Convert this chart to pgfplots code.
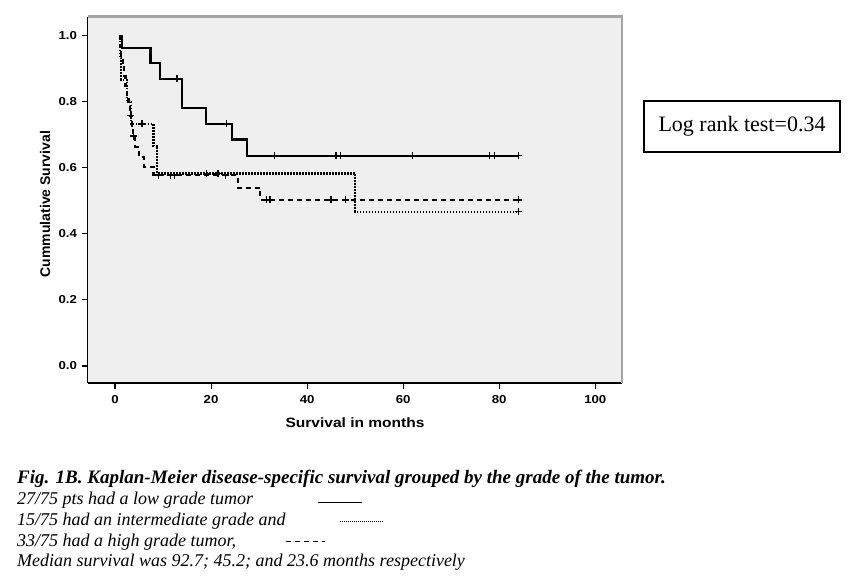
\documentclass[border=0pt]{standalone}
\usepackage{fontspec}
\setmainfont{Liberation Serif}
\newfontfamily\axfont[FakeStretch=1.15]{Liberation Sans}
\newfontfamily\axfontr{Liberation Sans}
\usepackage{pgfplots}
\pgfplotsset{compat=1.18}
\definecolor{bg}{RGB}{239,239,239}
\definecolor{fr}{RGB}{165,165,165}
\begin{document}
\begin{tikzpicture}
\useasboundingbox (0pt,0pt) rectangle (858pt,578pt);
\fill[white] (0pt,0pt) rectangle (858pt,578pt);
\begin{axis}[
  at={(87.5pt,195pt)}, anchor=south west, scale only axis,
  width=534.5pt, height=366.3pt,
  xmin=-5.73, xmax=105.56, ymin=-0.0515, ymax=1.0575,
  axis x line*=bottom, axis y line*=left,
  axis line style={-, black, line width=1.4pt},
  axis background/.style={fill=bg},
  xtick={0,20,40,60,80,100}, ytick={0,0.2,0.4,0.6,0.8,1.0},
  tick align=outside, major tick length=6pt,
  tick style={black, line width=1.1pt},
  /pgf/number format/assume math mode=true,
  tick label style={font=\axfont\bfseries\fontsize{11.5}{13}\selectfont},
  yticklabel style={/pgf/number format/fixed, /pgf/number format/fixed zerofill, /pgf/number format/precision=1, xshift=-1pt},
  xticklabel style={yshift=-3pt},
  clip=false,
]
% frame shadow
\draw[fr, line width=2.5pt] (rel axis cs:0,1) -- (rel axis cs:1,1) -- (rel axis cs:1,0);
% low grade (solid)
\addplot[const plot, black, line width=2.2pt] coordinates {
 (0.8,1) (1.5,0.963) (7.4,0.917) (9.3,0.87) (13.9,0.78) (19,0.733) (24.3,0.686) (27.4,0.636) (84,0.636)};
\addplot[only marks, mark=+, mark size=3.5pt, mark options={black, line width=1.1pt}] coordinates {
 (12.9,0.87) (23.3,0.733) (33.2,0.636) (46,0.636) (47,0.636) (62,0.636) (78,0.636) (79,0.636) (84,0.636)};
% intermediate grade (dotted)
\addplot[const plot, black, line width=2.2pt, dash pattern=on 1.5pt off 1.5pt] coordinates {
 (0.8,1) (1.0,0.933) (1.3,0.867) (2.5,0.8) (3.3,0.733) (8,0.667) (8.8,0.583) (50,0.467) (84,0.467)};
\addplot[only marks, mark=+, mark size=3.5pt, mark options={black, line width=1.4pt}] coordinates {
 (5.6,0.733) (19,0.583) (21.4,0.583) (84,0.467)};
% high grade (dashed)
\addplot[const plot, black, line width=2.2pt, dash pattern=on 5pt off 4pt] coordinates {
 (0.8,1) (1.0,0.97) (1.3,0.939) (1.6,0.909) (1.9,0.879) (2.2,0.848) (2.5,0.818) (2.8,0.788) (3.1,0.758)
 (3.6,0.727) (3.8,0.696) (4.2,0.664) (5,0.633) (6,0.603) (8,0.578) (25.6,0.54) (30.2,0.503) (84,0.503)};
\addplot[only marks, mark=+, mark size=3.5pt, mark options={black, line width=1.4pt}] coordinates {
 (3.3,0.758) (3.9,0.696) (9,0.578) (11.5,0.578) (12.4,0.578) (23,0.578) (31.5,0.503) (32.3,0.503) (45,0.503) (48,0.503) (84,0.503)};
\end{axis}
% axis labels
\node[font=\axfont\bfseries\fontsize{13.5}{15}\selectfont] at (355pt,155pt) {Survival in months};
\node[font=\axfontr\bfseries\fontsize{14}{16}\selectfont, rotate=90] at (45pt,374pt) {Cummulative Survival};
% log rank box
\draw[black, line width=1.1pt] (644pt,426pt) rectangle (840pt,477pt);
\node[font=\fontsize{22}{26}\selectfont] at (742pt,451.5pt) {Log rank test=0.34};
% caption
\begin{scope}[every node/.style={anchor=base west, inner sep=0pt, font=\fontsize{18}{21}\selectfont\itshape}]
\node[font=\fontsize{19}{21}\selectfont\bfseries\itshape] at (17pt,95pt) {Fig. 1B. Kaplan-Meier disease-specific survival grouped by the grade of the tumor.};
\node at (17pt,74pt) {27/75 pts had a low grade tumor};
\node at (17pt,53pt) {15/75 had an intermediate grade and};
\node at (17pt,32pt) {33/75 had a high grade tumor,};
\node at (17pt,12pt) {Median survival was 92.7; 45.2; and 23.6 months respectively};
\end{scope}
\draw[black, line width=1pt] (318pt,76pt) -- (362pt,76pt);
\draw[black, line width=1pt, dash pattern=on 1pt off 1pt] (340pt,57pt) -- (383pt,57pt);
\draw[black, line width=1pt, dash pattern=on 5pt off 4pt] (286pt,37pt) -- (325pt,37pt);
\end{tikzpicture}
\end{document}
